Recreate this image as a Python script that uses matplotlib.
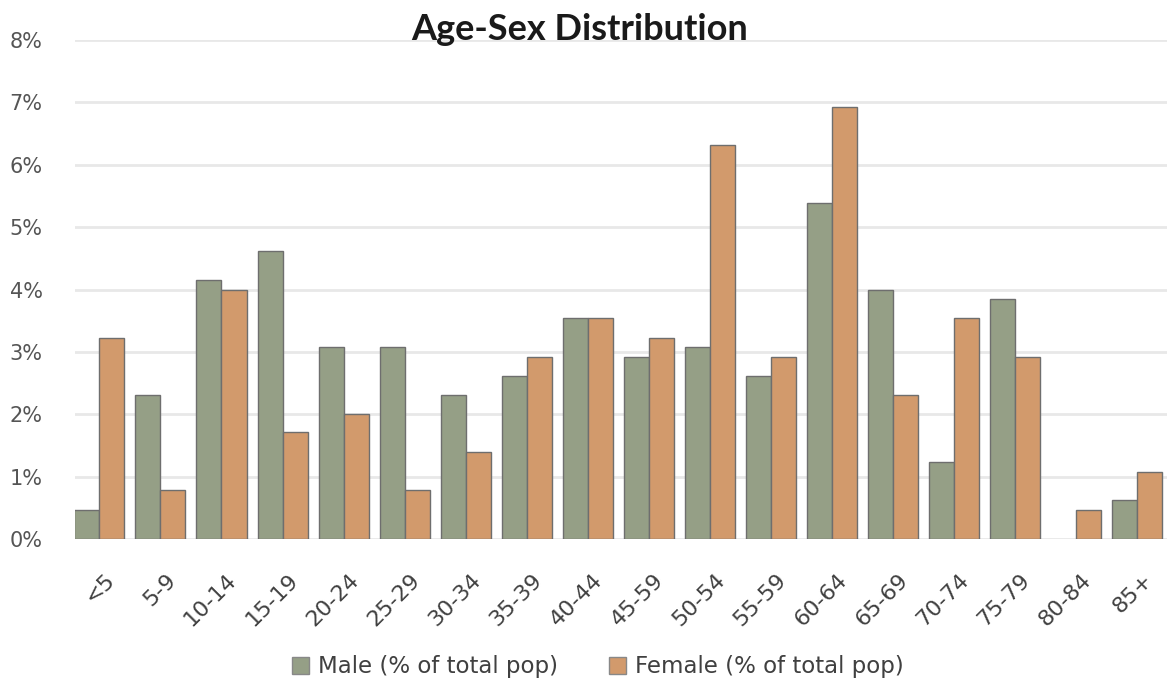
import matplotlib
matplotlib.use("Agg")
import matplotlib.pyplot as plt
import matplotlib.transforms as mtransforms
import numpy as np
from matplotlib.patches import Patch

categories = ["<5", "5-9", "10-14", "15-19", "20-24", "25-29", "30-34", "35-39", "40-44",
              "45-59", "50-54", "55-59", "60-64", "65-69", "70-74", "75-79", "80-84", "85+"]
male = [0.46, 2.31, 4.15, 4.62, 3.08, 3.08, 2.31, 2.62, 3.54,
        2.92, 3.08, 2.62, 5.38, 4.00, 1.24, 3.85, 0.0, 0.62]
female = [3.23, 0.78, 4.00, 1.71, 2.00, 0.78, 1.40, 2.92, 3.54,
          3.23, 6.31, 2.92, 6.92, 2.31, 3.54, 2.92, 0.46, 1.08]
yticks = [0, 1, 2, 3, 4, 5, 6, 7, 8]
ytick_labels = ["0%", "1%", "2%", "3%", "4%", "5%", "6%", "7%", "8%"]

male_color = "#959f86"
female_color = "#d29a6c"
edge = "#6e6e6e"

fig = plt.figure(figsize=(11.67, 6.93), dpi=100)
W, H = 1167, 693
ax = fig.add_axes([75 / W, 1 - 539 / H, (1167 - 75) / W, (539 - 40) / H])

x = np.arange(len(categories))
w = 0.41
male_lw = [1.0 if v > 0 else 0.0 for v in male]
female_lw = [1.0 if v > 0 else 0.0 for v in female]
ax.bar(x - w / 2, male, w, color=male_color, edgecolor=edge, linewidth=male_lw, zorder=3,
       label="Male (% of total pop)")
ax.bar(x + w / 2, female, w, color=female_color, edgecolor=edge, linewidth=female_lw, zorder=3,
       label="Female (% of total pop)")

ax.set_xlim(-0.40, 17.49)
ax.set_ylim(0, 8)
ax.set_yticks(yticks)
ax.set_yticklabels(ytick_labels, fontsize=15, color="#555555")
ax.yaxis.grid(True, color="#e8e8e8", linewidth=2, zorder=0)
ax.set_axisbelow(True)
ax.set_xticks(x)
ax.set_xticklabels(categories, rotation=45, ha="right", rotation_mode="anchor",
                   fontsize=16, color="#404040")
ax.tick_params(axis="both", length=0)
ax.tick_params(axis="x", pad=22)
for s in ax.spines.values():
    s.set_visible(False)
for lbl in ax.get_yticklabels():
    lbl.set_horizontalalignment("left")
ax.yaxis.set_tick_params(pad=47)
offset = mtransforms.ScaledTranslation(5 / 100, 0, fig.dpi_scale_trans)
for lbl in ax.get_xticklabels():
    lbl.set_transform(lbl.get_transform() + offset)

fig.text(580 / W, 1 - 30 / H, "Age-Sex Distribution", ha="center", va="center",
         fontsize=26, fontweight="bold", family=["Lato", "DejaVu Sans"], color="#1a1a1a")

handles = [Patch(facecolor=male_color, edgecolor="#888888"),
           Patch(facecolor=female_color, edgecolor="#888888")]
fig.legend(handles, ["Male (% of total pop)", "Female (% of total pop)"],
           loc="center", bbox_to_anchor=(598 / W, 1 - 667 / H), ncol=2, frameon=False,
           fontsize=16.5, handlelength=0.75, handleheight=0.75, columnspacing=2.2,
           handletextpad=0.4, labelcolor="#404040")

fig.savefig("out.png", dpi=100)
